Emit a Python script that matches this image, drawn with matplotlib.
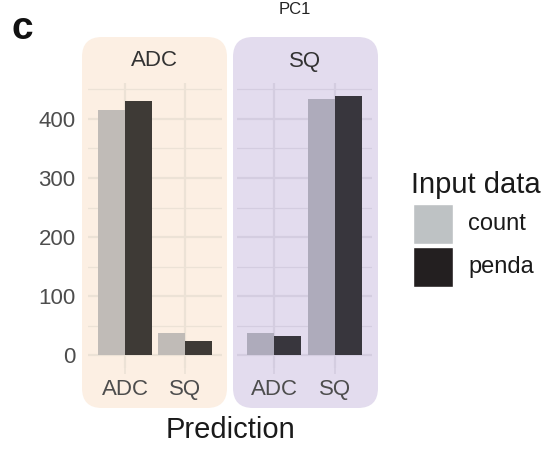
import numpy as np
import matplotlib.pyplot as plt
from matplotlib.patches import FancyBboxPatch

plt.rcParams['font.family'] = ['Liberation Sans', 'DejaVu Sans']

# data
panels = ["ADC", "SQ"]
predictions = ["ADC", "SQ"]
count_vals = {"ADC": [416, 38], "SQ": [38, 434]}
penda_vals = {"ADC": [431, 24], "SQ": [33, 439]}

# colours
panel_bg = {"ADC": "#fcefe3", "SQ": "#e3dcee"}
grid_col = {"ADC": "#ece2d6", "SQ": "#d4cde0"}
count_col = {"ADC": "#c0bbb7", "SQ": "#aeabbb"}
penda_col = {"ADC": "#3e3a36", "SQ": "#38363d"}
legend_cols = ["#bec2c4", "#231f20"]

W, H = 550, 458
fig = plt.figure(figsize=(W / 100, H / 100), dpi=100)

# overlay in pixel coordinates for the rounded panel backgrounds and text
bg = fig.add_axes([0, 0, 1, 1], zorder=0)
bg.set_xlim(0, W)
bg.set_ylim(H, 0)
bg.axis("off")


def px_axes(x0, y0, x1, y1):
    return fig.add_axes([x0 / W, 1 - y1 / H, (x1 - x0) / W, (y1 - y0) / H], zorder=1)


panel_x = {"ADC": (82, 227), "SQ": (233, 378)}
axes_x = {"ADC": (88, 222), "SQ": (237, 372)}
ymin, ymax = -22, 461
width = 0.45

for p in panels:
    x0, x1 = panel_x[p]
    bg.add_patch(FancyBboxPatch((x0, 37), x1 - x0, 371, boxstyle="round,pad=0,rounding_size=20",
                                fc=panel_bg[p], ec="none"))
    bg.text((x0 + x1) / 2, 61, p, ha="center", va="center", fontsize=16, color="#333333")

    ax = px_axes(axes_x[p][0], 83, axes_x[p][1], 368)
    ax.patch.set_alpha(0)
    xs = np.arange(1, len(predictions) + 1)
    ax.bar(xs - width / 2, count_vals[p], width, color=count_col[p], zorder=2)
    ax.bar(xs + width / 2, penda_vals[p], width, color=penda_col[p], zorder=2)
    ax.set_xlim(0.38, 2.62)
    ax.set_ylim(ymin, ymax)
    ax.set_xticks(xs)
    ax.set_xticklabels(predictions, fontsize=16, color="#4d4d4d")
    ax.set_yticks([0, 100, 200, 300, 400])
    ax.set_yticks([50, 150, 250, 350, 450], minor=True)
    ax.tick_params(axis="x", length=4, width=1.2, color=grid_col[p], pad=4)
    ax.tick_params(axis="y", which="both", length=0, labelsize=16, labelcolor="#4d4d4d", pad=9)
    ax.grid(True, which="major", color=grid_col[p], lw=1.6, zorder=0)
    ax.grid(True, which="minor", axis="y", color=grid_col[p], lw=0.9, zorder=0)
    for s in ax.spines.values():
        s.set_visible(False)
    if p != "ADC":
        ax.tick_params(axis="y", labelleft=False)

bg.text(22, 29, "c", fontsize=28, fontweight="bold", ha="center", va="center", color="#111111")
bg.text(295, 10, "PC1", fontsize=12, ha="center", va="center", color="#222222")
bg.text(230, 438, "Prediction", fontsize=21, ha="center", va="baseline", color="#1a1a1a")
bg.text(411, 193, "Input data", fontsize=21, ha="left", va="baseline", color="#1a1a1a")
for i, (lab, c) in enumerate(zip(["count", "penda"], legend_cols)):
    y0 = 204 + i * 43
    bg.add_patch(plt.Rectangle((413, y0), 40, 40, fc=c, ec="white", lw=1))
    bg.text(468, y0 + 20, lab, fontsize=17, ha="left", va="center", color="#1a1a1a")

fig.savefig("out.png", dpi=100)
